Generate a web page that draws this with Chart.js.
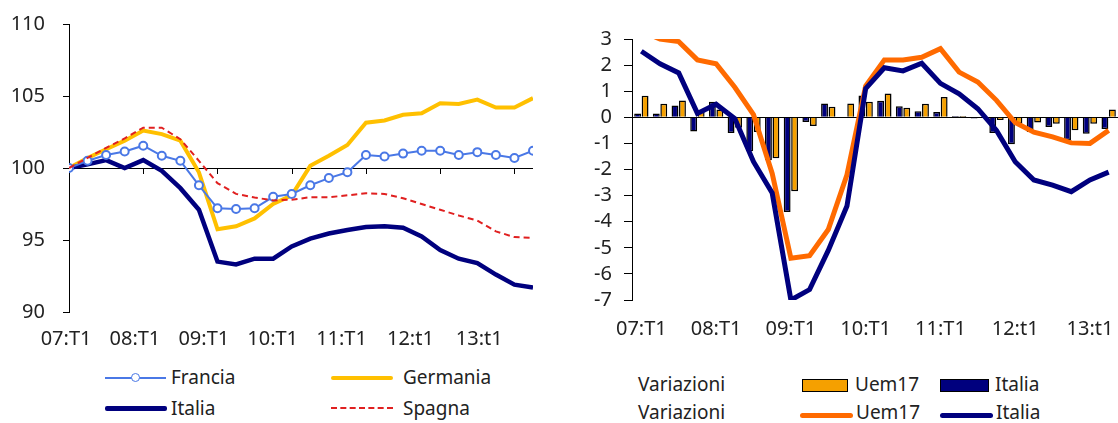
<!DOCTYPE html>
<html>
<head>
<meta charset="utf-8">
<script src="https://cdn.jsdelivr.net/npm/chart.js@4"></script>
<style>
  body { margin: 0; background: #fff; width: 1118px; height: 423px; position: relative; overflow: hidden; font-family: "Noto Sans", sans-serif; color: #222; }
  canvas { position: absolute; top: 0; }
  #left { left: 0; }
  #right { left: 560px; }
  .lg { position: absolute; font-size: 19px; line-height: 22px; white-space: nowrap; }
  .sw { position: absolute; }
</style>
</head>
<body>
<canvas id="left" width="545" height="352"></canvas>
<canvas id="right" width="558" height="352"></canvas>

<!-- legenda sinistra -->
<div class="sw" style="left:105px;top:377px;width:61px;height:2px;background:#4A78E6"></div>
<div class="sw" style="left:131px;top:373px;width:7px;height:7px;border:1.5px solid #4A78E6;border-radius:50%;background:#fff"></div>
<div class="lg" style="left:171px;top:366px">Francia</div>
<div class="sw" style="left:331px;top:376px;width:62px;height:4px;background:#FFC000;border-radius:2px"></div>
<div class="lg" style="left:403px;top:366px">Germania</div>
<div class="sw" style="left:105px;top:406px;width:62px;height:5px;background:#00007E;border-radius:2px"></div>
<div class="lg" style="left:171px;top:397px">Italia</div>
<div class="sw" style="left:331px;top:407px;width:62px;height:0;border-top:2px dashed #E02020"></div>
<div class="lg" style="left:403px;top:397px">Spagna</div>

<!-- legenda destra -->
<div class="lg" style="left:638px;top:373px">Variazioni</div>
<div class="lg" style="left:638px;top:401px">Variazioni</div>
<div class="sw" style="left:802px;top:379px;width:44px;height:11px;background:#F5A000;border:1.5px solid #000"></div>
<div class="lg" style="left:855px;top:373px">Uem17</div>
<div class="sw" style="left:940px;top:379px;width:47px;height:11px;background:#00007E;border:1.5px solid #000"></div>
<div class="lg" style="left:995px;top:373px">Italia</div>
<div class="sw" style="left:800px;top:413px;width:53px;height:5px;background:#FF6A00;border-radius:3px"></div>
<div class="lg" style="left:856px;top:401px">Uem17</div>
<div class="sw" style="left:940px;top:413px;width:53px;height:5px;background:#00007E;border-radius:3px"></div>
<div class="lg" style="left:996px;top:401px">Italia</div>

<script>
"use strict";
// trimestri 2007:T1 - 2013:T2
const yearLabels = ["07:T1", "08:T1", "09:T1", "10:T1", "11:T1", "12:t1", "13:t1"];
const nQuarters = 26;

// indici (2007:T1 = 100)
const francia  = [100, 100.5, 100.9, 101.15, 101.55, 100.85, 100.5, 98.8, 97.2, 97.15, 97.2, 98.0, 98.2, 98.8, 99.3, 99.7, 100.9, 100.8, 101.0, 101.2, 101.2, 100.9, 101.1, 100.9, 100.7, 101.2];
const germania = [100, 100.7, 101.3, 101.9, 102.6, 102.35, 101.9, 99.7, 95.75, 95.95, 96.5, 97.5, 98.1, 100.15, 100.85, 101.6, 103.15, 103.3, 103.7, 103.8, 104.5, 104.45, 104.75, 104.2, 104.2, 104.85];
const italia   = [100, 100.25, 100.55, 100.0, 100.55, 99.8, 98.6, 97.1, 93.5, 93.3, 93.7, 93.7, 94.55, 95.1, 95.45, 95.7, 95.9, 95.95, 95.85, 95.25, 94.3, 93.7, 93.4, 92.6, 91.9, 91.7];
const spagna   = [100, 100.7, 101.4, 102.05, 102.8, 102.8, 102.0, 100.5, 98.95, 98.2, 97.95, 97.75, 97.8, 97.97, 97.97, 98.1, 98.25, 98.2, 97.9, 97.5, 97.1, 96.7, 96.35, 95.6, 95.2, 95.15];

// variazioni congiunturali (barre) e tendenziali (linee)
const uemCong = [0.83, 0.52, 0.64, 0.27, 0.3, -0.4, -0.56, -1.57, -2.83, -0.33, 0.4, 0.53, 0.6, 0.91, 0.37, 0.52, 0.78, 0.05, 0.02, -0.1, -0.25, -0.2, -0.25, -0.5, -0.25, 0.3];
const itaCong = [0.15, 0.15, 0.45, -0.54, 0.6, -0.6, -1.3, -1.65, -3.63, -0.18, 0.53, 0.02, 0.84, 0.63, 0.42, 0.23, 0.2, 0.05, -0.05, -0.6, -1.03, -0.56, -0.37, -0.88, -0.63, -0.45];
const uemTend = [3.3, 3.0, 2.9, 2.2, 2.05, 1.15, 0.1, -2.15, -5.4, -5.3, -4.3, -2.2, 1.2, 2.2, 2.2, 2.3, 2.63, 1.73, 1.35, 0.65, -0.2, -0.57, -0.75, -0.98, -1.0, -0.5];
const itaTend = [2.53, 2.05, 1.7, 0.15, 0.5, -0.05, -1.7, -2.9, -7.0, -6.6, -5.1, -3.4, 1.1, 1.9, 1.78, 2.07, 1.3, 0.9, 0.33, -0.5, -1.7, -2.4, -2.6, -2.85, -2.4, -2.1];

const font = { family: "'Noto Sans', sans-serif", size: 20 };
const txt = "#222";

function pts(arr) {
  return arr.map((v, i) => ({ x: i, y: v }));
}

// tacche sull'asse a quota 100
const tickPlugin = {
  id: "tacche",
  beforeDatasetsDraw(chart) {
    const x = chart.scales.x, y = chart.scales.y;
    const y0 = y.getPixelForValue(100);
    const c = chart.ctx;
    c.save();
    c.strokeStyle = "#000";
    c.lineWidth = 1;
    c.beginPath();
    for (let i = 4; i < nQuarters; i += 4) {
      const px = Math.round(x.getPixelForValue(i)) + 0.5;
      c.moveTo(px, y0);
      c.lineTo(px, y0 + 6);
    }
    c.stroke();
    c.restore();
  }
};

Chart.defaults.animation = false;

new Chart(document.getElementById("left"), {
  type: "line",
  data: {
    datasets: [
      { label: "Germania", data: pts(germania), borderColor: "#FFC000", borderWidth: 4, pointRadius: 0, order: 4 },
      { label: "Italia", data: pts(italia), borderColor: "#00007E", borderWidth: 4.5, pointRadius: 0, order: 3 },
      { label: "Francia", data: pts(francia), borderColor: "#4A78E6", borderWidth: 2, pointRadius: 4,
        pointBackgroundColor: "#fff", pointBorderColor: "#4A78E6", pointBorderWidth: 2, order: 2 },
      { label: "Spagna", data: pts(spagna), borderColor: "#E02020", borderWidth: 2, borderDash: [6, 4], pointRadius: 0, order: 1 }
    ]
  },
  options: {
    responsive: false,
    layout: { padding: { top: 24, right: 12, bottom: 0, left: 0 } },
    plugins: { legend: { display: false }, tooltip: { enabled: false } },
    scales: {
      x: { type: "linear", min: 0, max: nQuarters - 1, display: false },
      x2: {
        type: "linear", position: "bottom", min: 0.043, max: 6.78,
        grid: { display: false }, border: { display: false },
        afterFit: s => { s.height = 40; },
        afterBuildTicks: s => { s.ticks = yearLabels.map((_, i) => ({ value: i })); },
        ticks: { autoSkip: false, maxRotation: 0, padding: 7, color: txt, font: font,
          callback: (v, i) => yearLabels[i] }
      },
      y: {
        min: 90, max: 110,
        afterFit: s => { s.width = 69; s.paddingTop = 0; s.paddingBottom = 0; },
        border: { display: true, color: "#000", width: 1 },
        grid: { color: c => c.tick && c.tick.value === 100 ? "#000" : "transparent",
          tickColor: "#000", tickLength: 6, lineWidth: 1 },
        ticks: { stepSize: 5, autoSkip: false, padding: 18, color: txt, font: font }
      }
    }
  },
  plugins: [tickPlugin]
});

const catLabels = [];
for (let i = 0; i < nQuarters; i++) catLabels.push(i % 4 === 0 ? yearLabels[i / 4] : "");

new Chart(document.getElementById("right"), {
  type: "bar",
  data: {
    labels: catLabels,
    datasets: [
      { type: "line", label: "Uem17 tend", data: uemTend, borderColor: "#FF6A00", borderWidth: 5, pointRadius: 0, order: 1 },
      { type: "line", label: "Italia tend", data: itaTend, borderColor: "#00007E", borderWidth: 5, pointRadius: 0, order: 0 },
      { label: "Uem17", data: uemCong, backgroundColor: "#F5A000", borderColor: "#000", borderWidth: 1.5,
        categoryPercentage: 0.8, barPercentage: 0.92, order: 3 },
      { label: "Italia", data: itaCong, backgroundColor: "#00007E", borderColor: "#000", borderWidth: 1.5,
        categoryPercentage: 0.8, barPercentage: 0.92, order: 2 }
    ]
  },
  options: {
    responsive: false,
    layout: { padding: { top: 39, right: 0, bottom: 0, left: 0 } },
    plugins: { legend: { display: false }, tooltip: { enabled: false } },
    scales: {
      x: {
        grid: { display: false }, border: { display: false },
        afterFit: s => { s.height = 52; },
        ticks: { autoSkip: false, maxRotation: 0, padding: 9, color: txt, font: font }
      },
      y: {
        min: -7, max: 3,
        afterFit: s => { s.width = 72; },
        border: { display: true, color: "#000", width: 1 },
        grid: { color: c => c.tick && c.tick.value === 0 ? "#000" : "transparent",
          tickColor: "#000", tickLength: 8, lineWidth: 1 },
        ticks: { stepSize: 1, autoSkip: false, padding: 12, color: txt, font: font }
      }
    }
  }
});
</script>
</body>
</html>
